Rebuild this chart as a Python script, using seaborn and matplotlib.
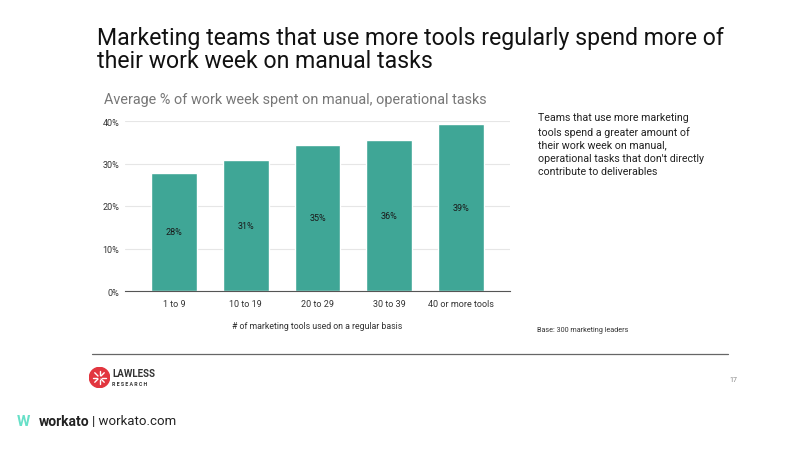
import math
import matplotlib
matplotlib.use("Agg")
import matplotlib.pyplot as plt
import seaborn as sns
import pandas as pd
from matplotlib.patches import Circle

categories = ["1 to 9", "10 to 19", "20 to 29", "30 to 39", "40 or more tools"]
values = [27.8, 30.8, 34.4, 35.6, 39.2]
labels = ["28%", "31%", "35%", "36%", "39%"]
yticks = [0, 10, 20, 30, 40]
ytick_labels = ["0%", "10%", "20%", "30%", "40%"]

sns.set_theme(style="white")
plt.rcParams['font.family'] = ['Roboto', 'DejaVu Sans']

W, H = 800, 456
fig = plt.figure(figsize=(8, 4.56), dpi=100)
fig.patch.set_facecolor("white")

def fx(x): return x / W
def fy(y): return 1 - y / H

ax = fig.add_axes([fx(125), fy(292), fx(510 - 125), (292 - 122) / H])
df = pd.DataFrame({"cat": categories, "val": values})
sns.barplot(data=df, x="cat", y="val", color="#3fa696", saturation=1, width=0.64, ax=ax, zorder=3)
ax.set_xlim(-0.68, 4.68)
ax.set_ylim(0, 40)
ax.set_yticks(yticks)
ax.set_yticklabels(ytick_labels, fontsize=6.5, color="#333333")
ax.tick_params(axis="x", labelsize=6.5, colors="#333333", length=0, pad=6)
ax.tick_params(axis="y", length=0, pad=4)
ax.set_xlabel("# of marketing tools used on a regular basis", fontsize=6.3, color="#333333", labelpad=9)
ax.set_ylabel("")
for s in ["top", "right", "left"]:
    ax.spines[s].set_visible(False)
ax.spines["bottom"].set_color("#555555")
ax.spines["bottom"].set_linewidth(0.8)
ax.spines["bottom"].set_zorder(4)
ax.yaxis.grid(True, color="#e6e6e6", linewidth=0.8, zorder=0)
ax.set_axisbelow(True)
for i, (v, lab) in enumerate(zip(values, labels)):
    ax.text(i, v / 2, lab, ha="center", va="center", fontsize=6.5, color="#1a1a1a", zorder=5)

fig.text(fx(97), fy(50), "Marketing teams that use more tools regularly spend more of\ntheir work week on manual tasks",
         fontsize=16.6, color="#111111", ha="left", va="center", linespacing=1.05)
fig.text(fx(104), fy(100), "Average % of work week spent on manual, operational tasks",
         fontsize=10.4, color="#777777", ha="left", va="center")
fig.text(fx(538), fy(145), "Teams that use more marketing\ntools spend a greater amount of\ntheir work week on manual,\noperational tasks that don't directly\ncontribute to deliverables",
         fontsize=7.7, color="#222222", ha="left", va="center", linespacing=1.38)
fig.text(fx(537), fy(330), "Base: 300 marketing leaders", fontsize=5.2, color="#333333", ha="left", va="center")

fig.add_artist(plt.Line2D([fx(92), fx(728)], [fy(355), fy(355)], color="#666666", linewidth=0.9, transform=fig.transFigure))

# Lawless Research logo
lax = fig.add_axes([fx(89), fy(389), fx(21), 21 / H])
lax.set_xlim(0, 1); lax.set_ylim(0, 1); lax.axis("off")
lax.add_patch(Circle((0.5, 0.5), 0.48, color="#e2363f"))
for ang in range(0, 360, 45):
    a = math.radians(ang)
    lax.plot([0.5 + 0.1 * math.cos(a), 0.5 + 0.32 * math.cos(a)], [0.5 + 0.1 * math.sin(a), 0.5 + 0.32 * math.sin(a)], color="white", lw=1.0)
fig.text(fx(112), fy(374), "LAWLESS", fontsize=7, color="#333333", ha="left", va="center", fontweight="bold")
fig.text(fx(112), fy(385), "R E S E A R C H", fontsize=3.8, color="#333333", ha="left", va="center", fontweight="bold")
fig.text(fx(733), fy(380), "17", fontsize=5, color="#888888", ha="center", va="center")

# workato footer
fig.text(fx(17), fy(422), "W", fontsize=11, color="#67e0c8", ha="left", va="center", fontweight="bold")
fig.text(fx(39), fy(422), "workato", fontsize=10, color="#222222", ha="left", va="center", fontweight="bold")
fig.text(fx(92), fy(422), "| workato.com", fontsize=9.5, color="#222222", ha="left", va="center")

fig.savefig("out.png", dpi=100, facecolor="white")
